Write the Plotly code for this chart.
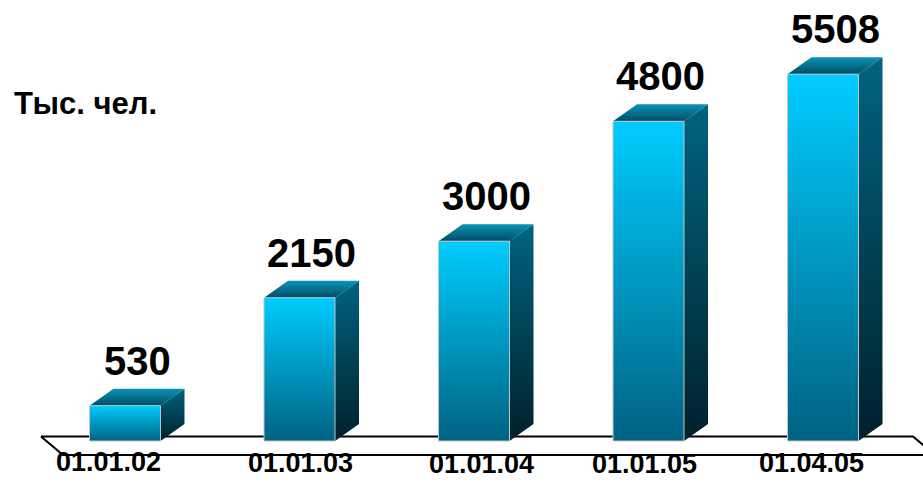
import plotly.graph_objects as go

# --- data -------------------------------------------------------------
dates = ["01.01.02", "01.01.03", "01.01.04", "01.01.05", "01.04.05"]
values = [530, 2150, 3000, 4800, 5508]
unit_label = "Тыс. чел."

# --- canvas / scale ---------------------------------------------------
W, H = 923, 482
X0_PX, X_STEP_PX = 125.0, 174.5      # pixel centre of first bar, bar spacing
BASE_PX, Y_PX_PER_UNIT = 441.0, 0.0666

x_range = [(0 - X0_PX) / X_STEP_PX, (W - X0_PX) / X_STEP_PX]
y_range = [(BASE_PX - H) / Y_PX_PER_UNIT, BASE_PX / Y_PX_PER_UNIT]


def dx(px):
    return px / X_STEP_PX


def dy(px):
    return px / Y_PX_PER_UNIT


HALF_W = dx(35.5)       # half width of a bar's front face
DEPTH_X = dx(24)        # 3-D depth offset
DEPTH_Y = dy(17)

FRONT = [[0, "#006282"], [1, "#00ccff"]]
SIDE = [[0, "#00212b"], [1, "#006380"]]
TOP = [[0, "#004d66"], [1, "#0b93b6"]]

FONT = "Liberation Sans, Arial, sans-serif"

fig = go.Figure()

# floor of the chart
floor_x = [X0_PX - 84, X0_PX + 788, X0_PX + 810, X0_PX - 62, X0_PX - 84]
floor_y = [-4.5, -4.5, 14, 14, -4.5]
fig.add_trace(go.Scatter(
    x=[dx(v - X0_PX) for v in floor_x],
    y=[dy(-v) for v in floor_y],
    mode="lines", line=dict(color="black", width=2),
    fill="toself", fillcolor="white", hoverinfo="skip", showlegend=False,
))


def face(xs, ys, scale, outline=None):
    fig.add_trace(go.Scatter(
        x=xs + xs[:1], y=ys + ys[:1], mode="lines",
        line=dict(color=outline or "rgba(0,0,0,0)", width=1 if outline else 0),
        fill="toself",
        fillgradient=dict(type="vertical", colorscale=scale),
        hoverinfo="skip", showlegend=False,
    ))


for i, v in enumerate(values):
    xl, xr = i - HALF_W, i + HALF_W
    # right side face
    face([xr, xr, xr + DEPTH_X, xr + DEPTH_X],
         [0, v, v + DEPTH_Y, DEPTH_Y], SIDE)
    # top face
    face([xl, xr, xr + DEPTH_X, xl + DEPTH_X],
         [v, v, v + DEPTH_Y, v + DEPTH_Y], TOP)
    # front face
    face([xl, xr, xr, xl], [0, 0, v, v], FRONT, outline="#bfc4c6")

    # value label above the bar
    fig.add_annotation(
        x=i + DEPTH_X / 2, y=v + DEPTH_Y, text=str(v),
        xanchor="center", yanchor="bottom", yshift=4, showarrow=False,
        font=dict(family=FONT, size=40, color="black", weight="bold"),
    )

# date labels under the floor
label_nudge_x = [-17, 1, 7, -4, -12]
label_nudge_y = [1, 0, -1, -1, 0]
for i, d in enumerate(dates):
    fig.add_annotation(
        x=i, y=dy(BASE_PX - 463), text=d,
        xanchor="center", yanchor="middle",
        xshift=label_nudge_x[i], yshift=label_nudge_y[i], showarrow=False,
        font=dict(family=FONT, size=27, color="black", weight="bold"),
    )

fig.add_annotation(
    xref="paper", yref="paper", x=12 / W, y=1 - 103 / H,
    xanchor="left", yanchor="middle", text=unit_label, showarrow=False,
    font=dict(family=FONT, size=31, color="black", weight="bold"),
)

fig.update_layout(
    width=W, height=H, margin=dict(l=0, r=0, t=0, b=0),
    paper_bgcolor="white", plot_bgcolor="white",
    xaxis=dict(range=x_range, visible=False, fixedrange=True),
    yaxis=dict(range=y_range, visible=False, fixedrange=True),
    showlegend=False,
)

fig.write_html("out.html")
